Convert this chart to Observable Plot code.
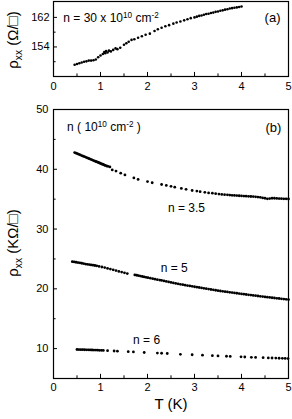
<!DOCTYPE html>
<html><head><meta charset="utf-8">
<script src="https://cdn.jsdelivr.net/npm/d3@7"></script>
<script src="https://cdn.jsdelivr.net/npm/@observablehq/plot@0.6"></script>
<style>html,body{margin:0;padding:0;background:#fff}#c svg{display:block}</style>
</head><body><div id="c"></div>
<script>
// ---- panel (a): n = 30 x 10^10 cm^-2, rho_xx in Ohm/sq ----
const aT = [0.45,0.50,0.55,0.60,0.65,0.70,0.75,0.80,0.85,0.90,0.95,1.00,1.05,1.08,1.10,1.12,1.15,1.18,1.22,1.27,1.32,1.36,1.42,1.50,1.55,1.60,1.66,1.72,1.80,1.88,1.96,2.05,2.15,2.22,2.30,2.38,2.46,2.55,2.62,2.70,2.78,2.85,2.92,3.00,3.05,3.10,3.15,3.20,3.25,3.30,3.35,3.40,3.45,3.50,3.55,3.60,3.65,3.70,3.75,3.80,3.85,3.90,3.95,4.00];
const aR = [149.2,149.4,149.6,149.8,150.0,150.1,150.3,150.3,150.4,150.6,151.2,151.7,152.1,152.6,152.3,152.9,152.5,153.0,152.8,153.2,153.6,153.4,153.8,154.6,155.0,155.4,155.9,156.1,156.5,156.9,157.3,157.6,158.3,158.8,159.2,159.6,159.9,160.3,160.6,160.9,161.2,161.5,161.8,162.0,162.2,162.4,162.5,162.7,162.9,163.0,163.2,163.3,163.5,163.6,163.8,163.9,164.1,164.2,164.4,164.5,164.6,164.7,164.8,164.95];

// ---- panel (b): rho_xx in kOhm/sq ----
const n35T = [0.45,0.48,0.51,0.54,0.57,0.60,0.63,0.66,0.69,0.72,0.75,0.78,0.81,0.84,0.87,0.90,0.92,0.94,0.96,0.98,1.00,1.02,1.04,1.06,1.08,1.10,1.13,1.16,1.20,1.25,1.33,1.43,1.52,1.71,1.80,2.00,2.10,2.30,2.40,2.50,2.58,2.72,2.82,2.95,3.05,3.12,3.22,3.30,3.38,3.45,3.52,3.58,3.64,3.70,3.75,3.80,3.85,3.90,3.95,4.00,4.05,4.10,4.15,4.20,4.25,4.30,4.35,4.40,4.45,4.50,4.55,4.60,4.65,4.70,4.75,4.80,4.85,4.90,4.95,5.00];
const n35R = [42.8,42.7,42.6,42.5,42.4,42.3,42.2,42.1,42.0,41.9,41.8,41.7,41.6,41.5,41.4,41.3,41.25,41.2,41.1,41.05,41.0,40.9,40.85,40.8,40.7,40.65,40.55,40.5,40.4,39.9,39.7,39.35,39.05,38.55,38.3,37.95,37.75,37.45,37.3,37.15,37.0,36.8,36.65,36.45,36.35,36.25,36.15,36.05,36.0,35.92,35.85,35.8,35.75,35.72,35.68,35.65,35.62,35.6,35.57,35.55,35.52,35.5,35.48,35.45,35.43,35.4,35.35,35.3,35.2,35.15,35.05,35.1,35.15,35.15,35.12,35.1,35.08,35.06,35.05,35.03];

const n5T = [0.40,0.44,0.48,0.52,0.56,0.60,0.64,0.68,0.72,0.76,0.80,0.84,0.88,0.92,0.97,1.03,1.09,1.15,1.21,1.27,1.33,1.39,1.45,1.51,1.57,1.73,1.77,1.81,1.85,1.89,1.93,1.97,2.01,2.06,2.11,2.16,2.21,2.26,2.30,2.35,2.40,2.45,2.50,2.55,2.60,2.65,2.70,2.75,2.80,2.85,2.90,2.95,3.00,3.05,3.10,3.15,3.20,3.25,3.30,3.35,3.40,3.45,3.50,3.55,3.60,3.65,3.70,3.75,3.80,3.85,3.90,3.95,4.00,4.05,4.10,4.15,4.20,4.25,4.30,4.35,4.40,4.45,4.50,4.55,4.60,4.65,4.70,4.75,4.80,4.85,4.90,4.95,5.00];
const n5R = [24.55,24.5,24.45,24.4,24.35,24.28,24.22,24.15,24.1,24.05,24.0,23.95,23.9,23.85,23.75,23.65,23.55,23.42,23.3,23.18,23.05,22.92,22.8,22.68,22.55,22.33,22.27,22.2,22.13,22.06,22.0,21.93,21.86,21.78,21.7,21.62,21.54,21.46,21.40,21.32,21.24,21.15,21.07,20.99,20.91,20.83,20.76,20.69,20.62,20.55,20.48,20.42,20.35,20.28,20.22,20.15,20.09,20.02,19.96,19.89,19.83,19.76,19.70,19.64,19.59,19.53,19.48,19.42,19.37,19.31,19.26,19.20,19.15,19.10,19.05,19.00,18.95,18.90,18.85,18.80,18.75,18.70,18.65,18.60,18.56,18.51,18.47,18.42,18.38,18.33,18.29,18.24,18.20];

const n6T = [0.50,0.54,0.58,0.62,0.66,0.70,0.74,0.78,0.82,0.86,0.90,0.94,0.98,1.02,1.06,1.15,1.29,1.36,1.59,1.70,1.93,2.21,2.30,2.42,2.70,2.95,3.17,3.38,3.50,3.68,3.76,3.99,4.07,4.21,4.30,4.46,4.57,4.65,4.73,4.80,4.87,4.93,4.99];
const n6R = [9.85,9.84,9.83,9.82,9.81,9.80,9.79,9.78,9.77,9.76,9.75,9.74,9.72,9.71,9.70,9.65,9.6,9.57,9.48,9.45,9.35,9.25,9.22,9.18,9.05,8.97,8.9,8.82,8.78,8.72,8.7,8.62,8.6,8.55,8.53,8.48,8.45,8.43,8.41,8.39,8.37,8.35,8.34];

// ticks
const xTicks = [0,1,2,3,4,5];
const xMinor = [0.5,1.5,2.5,3.5,4.5];
const aYTicks = [154,162];
const aYMinor = [150,158];
const bYTicks = [10,20,30,40,50];
const bYMinor = [15,25,35,45];

const font = "'Liberation Sans', Arial, Helvetica, sans-serif";
const toRows = (T, R) => T.map((t, i) => ({T: t, R: R[i]}));
const dataA = toRows(aT, aR);
const dataB = [...toRows(n35T, n35R), ...toRows(n5T, n5R), ...toRows(n6T, n6R)];

const aDom = [146, 166.3];
const bDom = [5, 50];
const fmt = d => String(d);

const plotA = Plot.plot({
  width: 292, height: 98,
  marginLeft: 53, marginRight: 4, marginTop: 1, marginBottom: 22,
  style: {fontFamily: font, fontSize: "11px", background: "white", color: "black", overflow: "visible"},
  x: {domain: [0, 5]},
  y: {domain: aDom},
  marks: [
    Plot.axisX({ticks: xTicks, tickFormat: fmt, tickSize: 0, tickPadding: 6, label: null, fontSize: 11}),
    Plot.axisY({ticks: aYTicks, tickFormat: fmt, tickSize: 0, tickPadding: 4, label: null, fontSize: 11}),
    Plot.ruleX(xTicks, {x: d => d, y1: aDom[0], y2: aDom[0] + 1.1, stroke: "black"}),
    Plot.ruleX(xMinor, {x: d => d, y1: aDom[0], y2: aDom[0] + 0.7, stroke: "black"}),
    Plot.ruleY(aYTicks, {y: d => d, x1: 0, x2: 0.085, stroke: "black"}),
    Plot.ruleY(aYMinor, {y: d => d, x1: 0, x2: 0.055, stroke: "black"}),
    Plot.frame({stroke: "black", strokeWidth: 1.2}),
    Plot.dot(dataA, {x: "T", y: "R", r: 1.3, fill: "black", stroke: null}),
    Plot.text(["(a)"], {x: 4.66, y: 162, fontSize: 13, textAnchor: "middle", fill: "black"})
  ]
});

const plotB = Plot.plot({
  width: 292, height: 321,
  marginLeft: 53, marginRight: 4, marginTop: 11, marginBottom: 41,
  style: {fontFamily: font, fontSize: "11px", background: "white", color: "black", overflow: "visible"},
  x: {domain: [0, 5]},
  y: {domain: bDom},
  marks: [
    Plot.axisX({ticks: xTicks, tickFormat: fmt, tickSize: 0, tickPadding: 5, label: null, fontSize: 11}),
    Plot.axisY({ticks: bYTicks, tickFormat: fmt, tickSize: 0, tickPadding: 5, label: null, fontSize: 11}),
    Plot.ruleX(xTicks, {x: d => d, y1: bDom[0], y2: bDom[0] + 0.7, stroke: "black"}),
    Plot.ruleX(xMinor, {x: d => d, y1: bDom[0], y2: bDom[0] + 0.45, stroke: "black"}),
    Plot.ruleY(bYTicks, {y: d => d, x1: 0, x2: 0.085, stroke: "black"}),
    Plot.ruleY(bYMinor, {y: d => d, x1: 0, x2: 0.055, stroke: "black"}),
    Plot.frame({stroke: "black", strokeWidth: 1.2}),
    Plot.dot(dataB, {x: "T", y: "R", r: 1.4, fill: "black", stroke: null}),
    Plot.text(["(b)"], {x: 4.68, y: 46.9, fontSize: 13, textAnchor: "middle", fill: "black"}),
    Plot.text(["n = 3.5"], {x: 2.83, y: 33.5, fontSize: 12, textAnchor: "middle", fill: "black"}),
    Plot.text(["n = 5"], {x: 2.57, y: 23.5, fontSize: 12, textAnchor: "middle", fill: "black"}),
    Plot.text(["n = 6"], {x: 1.98, y: 11.36, fontSize: 12, textAnchor: "middle", fill: "black"}),
    Plot.text(["T (K)"], {frameAnchor: "bottom", dy: 30, fontSize: 15, textAnchor: "middle", fill: "black"})
  ]
});

// rich text helper (super/subscripts) positioned with the plots' own scales
function rich(svg, px, py, parts, opts = {}) {
  const t = d3.select(svg).append("text")
    .attr("x", px).attr("y", py)
    .attr("font-family", font)
    .attr("font-size", opts.size || 12)
    .attr("fill", "black")
    .attr("text-anchor", opts.anchor || "start");
  if (opts.rotate) t.attr("transform", `rotate(${opts.rotate},${px},${py})`);
  let shift = 0;
  for (const p of parts) {
    const target = p.sup ? -4.5 : p.sub ? 3.5 : 0;
    const sp = t.append("tspan").text(p.t).attr("dy", target - shift);
    if (p.sup || p.sub) sp.attr("font-size", (opts.size || 12) * 0.68);
    shift = target;
  }
}

const axA = plotA.scale("x"), ayA = plotA.scale("y");
const axB = plotB.scale("x"), ayB = plotB.scale("y");

rich(plotA, axA.apply(0.22), ayA.apply(161.7) + 4.5,
  [{t: "n = 30 x 10"}, {t: "10", sup: true}, {t: " cm"}, {t: "-2", sup: true}], {size: 12});
rich(plotB, axB.apply(0.30), ayB.apply(47.0) + 4.5,
  [{t: "n ( 10"}, {t: "10", sup: true}, {t: " cm"}, {t: "-2", sup: true}, {t: " )"}], {size: 12});

// y axis titles
rich(plotA, 18, 40, [{t: "ρ"}, {t: "xx", sub: true}, {t: " (Ω/□)"}], {size: 15, anchor: "middle", rotate: -90});
rich(plotB, 18, 145, [{t: "ρ"}, {t: "xx", sub: true}, {t: " (KΩ/□)"}], {size: 15, anchor: "middle", rotate: -90});

const c = document.getElementById("c");
c.appendChild(plotA);
c.appendChild(plotB);
</script></body></html>
